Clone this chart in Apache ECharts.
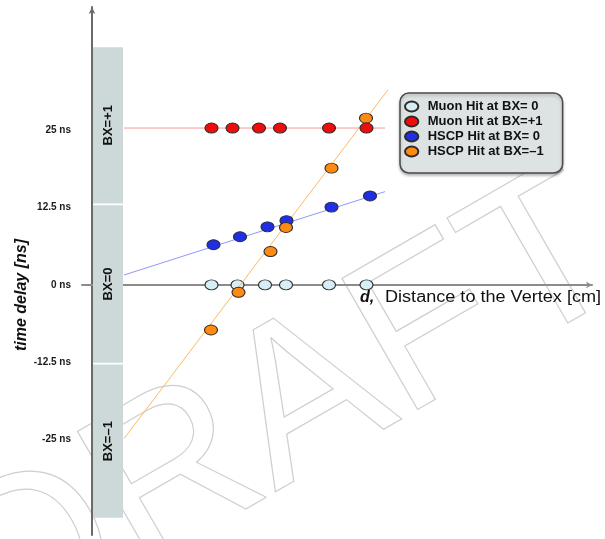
<!DOCTYPE html>
<html>
<head>
<meta charset="utf-8">
<script src="https://cdn.jsdelivr.net/npm/echarts@6/dist/echarts.min.js"></script>
<style>
  html, body { margin: 0; padding: 0; background: #ffffff; }
  #chart { width: 605px; height: 539px; }
</style>
</head>
<body>
<div id="chart"></div>
<script>
// Hit positions along the track [cm] and measured time delays [ns]
const muonBX0Dist   = [23.9, 29.1, 34.6, 38.8, 47.4, 54.9];
const muonBX0Delay  = [0, 0, 0, 0, 0, 0];
const muonBX1Dist   = [23.9, 28.1, 33.4, 37.6, 47.4, 54.9];
const muonBX1Delay  = [25.4, 25.4, 25.4, 25.4, 25.4, 25.4];
const hscpBX0Dist   = [24.3, 29.6, 35.1, 38.9, 47.9, 55.6];
const hscpBX0Delay  = [6.5, 7.8, 9.4, 10.4, 12.6, 14.4];
const hscpBXm1Dist  = [23.8, 29.3, 35.7, 38.8, 47.9, 54.8];
const hscpBXm1Delay = [-7.3, -1.2, 5.4, 9.3, 18.9, 27.0];

// Trend lines through each hit family (start and end points)
const muonBX1FitDist  = [6.4, 58.6];
const muonBX1Fit      = [25.4, 25.4];
const hscpBX0FitDist  = [6.4, 58.6];
const hscpBX0Fit      = [1.6, 15.1];
const hscpBXm1FitDist = [6.4, 59.2];
const hscpBXm1Fit     = [-24.9, 31.6];

// Bunch-crossing windows on the time axis
const bxLabels = ['BX=+1', 'BX=0', 'BX=–1'];
const bxLow    = [13.2, -12.6, -37.7];
const bxHigh   = [38.5, 12.9, -12.9];
const bxDist   = [0.2, 6.2];

// Time axis labels [ns]
const yTicks = [-25, -12.5, 0, 12.5, 25];

const seriesNames = ['Muon Hit at BX= 0', 'Muon Hit at BX=+1', 'HSCP Hit at BX= 0', 'HSCP Hit at BX=–1'];

const pairs = (xs, ys) => xs.map((x, i) => [x, ys[i]]);
const ellipse = 'path://M0,4.5A6,4.5 0 1 1 12,4.5A6,4.5 0 1 1 0,4.5Z';
const FONT = '"Liberation Sans", Arial, sans-serif';

const chart = echarts.init(document.getElementById('chart'), null, { renderer: 'canvas' });

function hits(name, xs, ys, color, z) {
  return {
    name: name,
    type: 'scatter',
    data: pairs(xs, ys),
    symbol: ellipse,
    symbolSize: [13, 10],
    z: z,
    itemStyle: { color: color, borderColor: '#2b2b2b', borderWidth: 1, opacity: 1 },
    emphasis: { disabled: true },
    silent: true
  };
}

function trend(name, xs, ys, color, z, extra) {
  return Object.assign({
    name: name,
    type: 'line',
    data: pairs(xs, ys),
    showSymbol: false,
    symbol: 'none',
    z: z,
    lineStyle: { color: color, width: 1 },
    emphasis: { disabled: true },
    silent: true
  }, extra || {});
}

const bandAreas = bxLabels.map((label, i) => [
  { name: label, xAxis: bxDist[0], yAxis: bxLow[i] },
  { xAxis: bxDist[1], yAxis: bxHigh[i] }
]);

const option = {
  backgroundColor: '#ffffff',
  animation: false,
  grid: { left: 82, right: 13, top: 7, bottom: 4, containLabel: false },
  xAxis: {
    type: 'value',
    min: -2,
    max: 100,
    axisLine: {
      show: true, onZero: true,
      symbol: ['none', 'arrow'], symbolSize: [5, 6],
      lineStyle: { color: '#8c8c8c', width: 2 }
    },
    axisTick: { show: false },
    axisLabel: { show: false },
    splitLine: { show: false }
  },
  yAxis: {
    type: 'value',
    min: -40.5,
    max: 45,
    axisLine: {
      show: true, onZero: true,
      symbol: ['none', 'arrow'], symbolSize: [5, 7],
      lineStyle: { color: '#6a6a6a', width: 2 }
    },
    axisTick: { show: false },
    splitLine: { show: false },
    axisLabel: {
      customValues: yTicks,
      formatter: v => v + ' ns',
      margin: 11,
      color: '#1a1a1a',
      fontFamily: FONT,
      fontWeight: 'bold',
      fontSize: 10
    }
  },
  legend: {
    data: seriesNames,
    orient: 'vertical',
    left: 400,
    top: 93,
    padding: [7, 19, 15, 4],
    itemGap: 2,
    itemWidth: 22,
    itemHeight: 10,
    backgroundColor: '#dde3e3',
    borderColor: '#4a4a4a',
    borderWidth: 1.5,
    borderRadius: 9,
    shadowColor: 'rgba(0,0,0,0.25)',
    shadowBlur: 3,
    shadowOffsetY: 2,
    selectedMode: false,
    textStyle: {
      fontFamily: FONT,
      fontWeight: 'bold',
      fontSize: 13,
      lineHeight: 12,
      color: '#111111'
    }
  },
  graphic: [
    {
      // outlined watermark behind the plot
      type: 'text',
      z: -10,
      x: 287,
      y: 415,
      rotation: 30 * Math.PI / 180,
      silent: true,
      style: {
        text: 'DRAFT',
        fontFamily: FONT,
        fontSize: 220,
        fill: 'none',
        stroke: '#cfcfcf',
        lineWidth: 1.2,
        align: 'center', verticalAlign: 'middle',
        textAlign: 'center', textVerticalAlign: 'middle'
      }
    },
    {
      type: 'text',
      x: 22,
      y: 295,
      rotation: Math.PI / 2,
      silent: true,
      style: {
        text: 'time delay [ns]',
        fontFamily: FONT,
        fontWeight: 'bold',
        fontStyle: 'italic',
        fontSize: 16,
        fill: '#111111',
        align: 'center', verticalAlign: 'middle',
        textAlign: 'center', textVerticalAlign: 'middle'
      }
    },
    {
      type: 'text',
      x: 360,
      y: 298,
      silent: true,
      style: {
        text: 'd,',
        fontFamily: FONT,
        fontWeight: 'bold',
        fontStyle: 'italic',
        fontSize: 16,
        fill: '#111111',
        align: 'left', verticalAlign: 'middle',
        textAlign: 'left', textVerticalAlign: 'middle'
      }
    },
    {
      type: 'text',
      x: 385,
      y: 298,
      scaleX: 1.13,
      silent: true,
      style: {
        text: 'Distance to the Vertex [cm]',
        fontFamily: FONT,
        fontSize: 16,
        fill: '#111111',
        align: 'left', verticalAlign: 'middle',
        textAlign: 'left', textVerticalAlign: 'middle'
      }
    }
  ],
  series: [
    trend('bx-windows', [], [], '#cdd8d8', 1, {
      markArea: {
        silent: true,
        itemStyle: { color: '#cdd8d8', opacity: 1, borderWidth: 0 },
        label: {
          show: true,
          position: 'inside',
          rotate: 90,
          color: '#111111',
          fontFamily: FONT,
          fontWeight: 'bold',
          fontSize: 13
        },
        emphasis: { disabled: true },
        data: bandAreas
      }
    }),
    hits(seriesNames[0], muonBX0Dist, muonBX0Delay, '#d6eef8', 2),
    trend('muon-bx1-trend', muonBX1FitDist, muonBX1Fit, '#f39a94', 3),
    trend('hscp-bx0-trend', hscpBX0FitDist, hscpBX0Fit, '#8f98ff', 3),
    trend('hscp-bxm1-trend', hscpBXm1FitDist, hscpBXm1Fit, '#ffb866', 3),
    hits(seriesNames[2], hscpBX0Dist, hscpBX0Delay, '#1f2fe6', 4),
    hits(seriesNames[3], hscpBXm1Dist, hscpBXm1Delay, '#ff8a12', 5),
    hits(seriesNames[1], muonBX1Dist, muonBX1Delay, '#ee0c0c', 6)
  ]
};

chart.setOption(option);
</script>
</body>
</html>
